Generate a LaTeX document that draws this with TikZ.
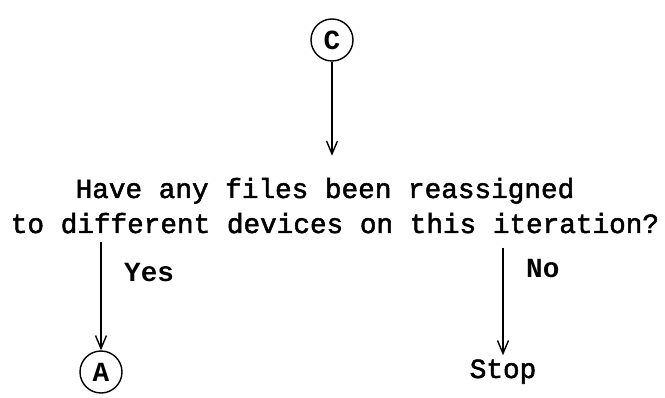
\documentclass[tikz,border=0pt]{standalone}
\usepackage{fontspec}
\setmonofont{Liberation Mono}
\newfontfamily\typefont{Liberation Mono}[FakeBold=1.8]
\usetikzlibrary{arrows.meta}

\newcommand{\typesize}{\fontsize{27.7}{35}\selectfont}

\tikzset{
  conn/.style={circle, draw, line width=1.4pt, minimum size=42pt, inner sep=0pt, font=\ttfamily\bfseries\typesize},
  flow/.style={line width=1.6pt, -{Straight Barb[length=13pt, width=11pt, line width=1.4pt]}},
  lbl/.style={font=\ttfamily\bfseries\typesize, inner sep=0pt}
}

\begin{document}
\begin{tikzpicture}[x=1pt, y=-1pt, font=\typefont\typesize]

        \useasboundingbox (0,0) rectangle (665,398);

        % ==========================================
        % 1. CONNETTORE IN ALTO (C) E DOMANDA
        % ==========================================
        \node[conn] (c) at (332, 40) {C};

        % base = riga di base dell'ultima riga
        \node[align=center, anchor=base, inner sep=0pt] (q) at (335, 233)
          {Have any files been reassigned\hspace*{20pt}\\to different devices on this iteration?};

        % Freccia C -> domanda
        \draw[flow, shorten >=22pt] (c) -- (c |- q.north);

        % ==========================================
        % 2. RAMO SINISTRO: Yes -> A
        % ==========================================
        \node[conn] (a) at (101, 372) {A};
        \node[lbl, anchor=base west] (yes) at (124, 282) {Yes};
        \draw[flow, shorten <=8pt] (q.south -| a) -- (a);

        % ==========================================
        % 3. RAMO DESTRO: No -> Stop
        % ==========================================
        \node[anchor=base, inner sep=0pt] (stop) at (503, 378) {Stop};
        \node[lbl, anchor=base west] (no) at (526, 278) {No};
        \draw[flow, shorten <=14pt, shorten >=4pt] (q.south -| stop) -- (stop);

\end{tikzpicture}
\end{document}
